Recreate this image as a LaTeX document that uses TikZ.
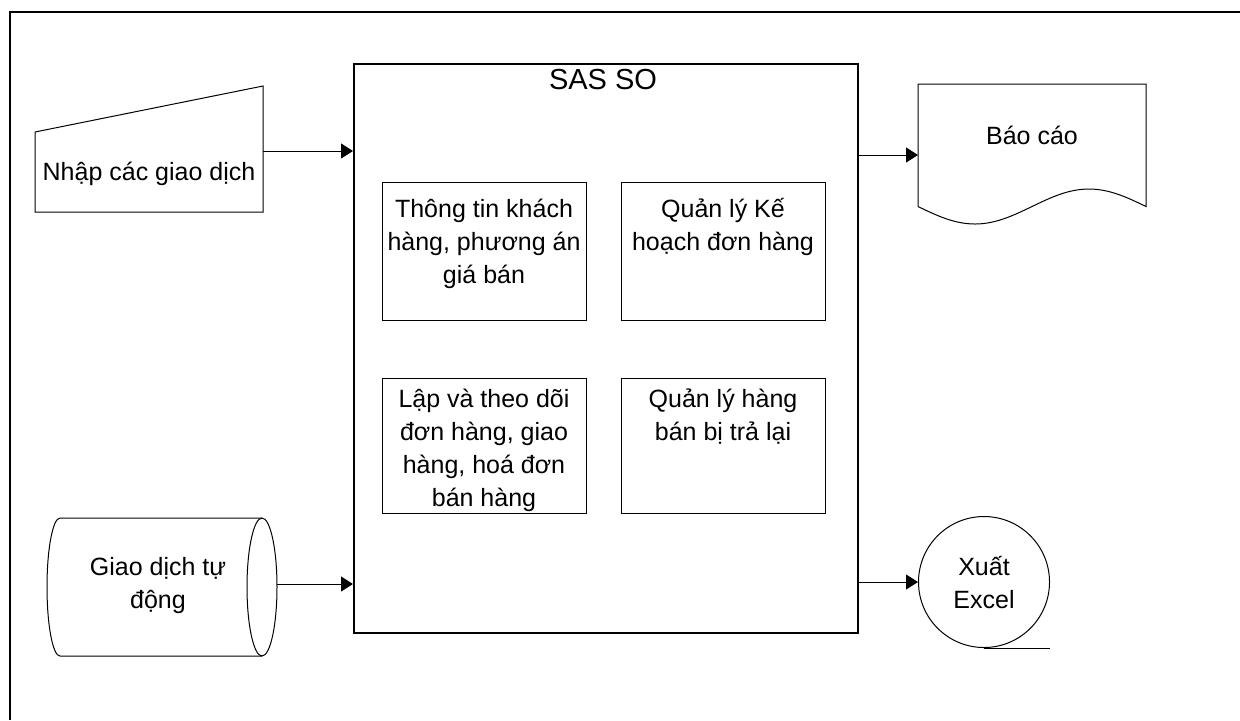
\documentclass[tikz,border=0pt]{standalone}
\usepackage{fontspec}
\setmainfont{Liberation Sans}
\usetikzlibrary{arrows.meta}

\begin{document}
\begin{tikzpicture}[x=0.5pt, y=-0.5pt,
    every node/.style={font=\fontsize{12.5}{16.5}\selectfont, inner sep=0pt},
    flow/.style={-{Triangle[length=6pt,width=7.5pt]}, line width=0.5pt},
    modbox/.style={draw, line width=0.5pt, minimum width=102pt, anchor=north west}]
    \useasboundingbox (0,0) rectangle (1240,720);
    % Frame
    \draw[line width=1pt] (10,720) -- (10,12) -- (1240,12);
    % Main box
    \node[draw, line width=0.9pt, minimum width=252pt, minimum height=284.5pt, anchor=north west] (sas) at (353,63) {};
    \node[anchor=base, font=\fontsize{14.5}{17}\selectfont] (sastitle) at (603,89) {SAS SO};
    % Modules (base = last line)
    \node[modbox, minimum height=69pt] (khach) at (382,182) {};
    \node[modbox, minimum height=69pt] (kehoach) at (621,182) {};
    \node[modbox, minimum height=67.3pt] (donhang) at (382,378) {};
    \node[modbox, minimum height=67.3pt] (trahang) at (621,378) {};
    \node[anchor=base, align=center] at (484,283) {Thông tin khách\\hàng, phương án\\giá bán};
    \node[anchor=base, align=center] at (723,250) {Quản lý Kế\\hoạch đơn hàng};
    \node[anchor=base, align=center] at (484,506) {Lập và theo dõi\\đơn hàng, giao\\hàng, hoá đơn\\bán hàng};
    \node[anchor=base, align=center] at (723,440) {Quản lý hàng\\bán bị trả lại};
    % Manual input
    \draw[line width=0.5pt] (35,132) -- (263,86) -- (263,212) -- (35,212) -- cycle;
    \node[anchor=base] (nhap) at (149,180) {Nhập các giao dịch};
    \coordinate (nhap-e) at (263,151);
    \draw[flow] (nhap-e) -- (nhap-e -| sas.west);
    % Report
    \draw[line width=0.5pt] (918,206.5) -- (918,84) -- (1146,84) -- (1146,206.5)
        sin (1089,189) cos (1032,206.5) sin (975,224) cos (918,206.5);
    \node[anchor=base] (baocao) at (1032,144) {Báo cáo};
    \coordinate (baocao-w) at (918,155);
    \draw[flow] (sas.east |- baocao-w) -- (baocao-w);
    % Stored transactions
    \draw[line width=0.5pt] (262,518) -- (60,518) arc[start angle=270, end angle=90, x radius=13, y radius=69] -- (262,656);
    \draw[line width=0.5pt] (262,587) ellipse[x radius=15, y radius=69];
    \node[anchor=base, align=center] (tudong) at (158,608) {Giao dịch tự\\động};
    \coordinate (tudong-e) at (277,584);
    \draw[flow] (tudong-e) -- (tudong-e -| sas.west);
    % Export
    \node[draw, circle, line width=0.5pt, minimum size=65.5pt, align=center] (xuat) at (984,582) {Xuất\\Excel};
    \draw[line width=0.5pt] (xuat.south) -- ++(66,0);
    \draw[flow] (sas.east |- xuat.west) -- (xuat.west);
\end{tikzpicture}
\end{document}
